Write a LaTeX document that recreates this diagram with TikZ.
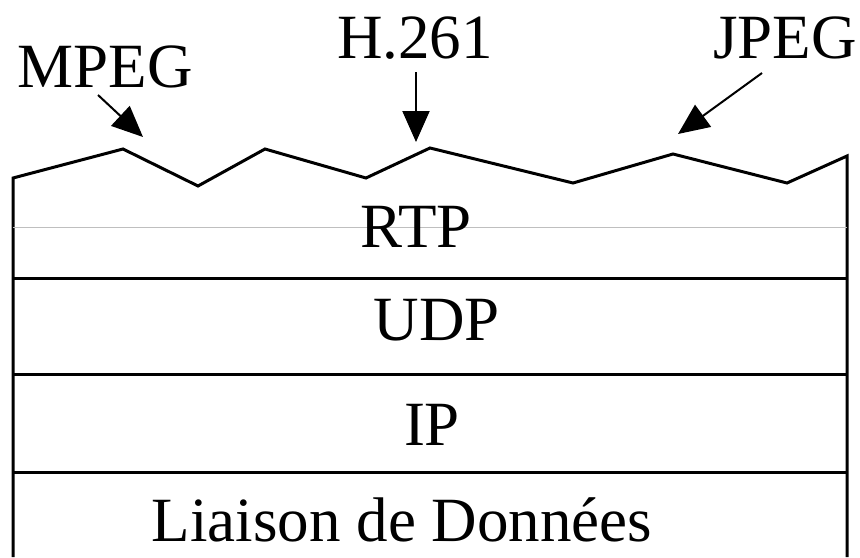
\documentclass[tikz,border=0pt]{standalone}
\usepackage{fontspec}
\setmainfont{Liberation Serif}
\usepackage{tikz}
\usetikzlibrary{arrows.meta}
\newcommand{\stackfont}{\fontsize{31.5}{36}\selectfont}
\tikzset{
    codec/.style={font=\stackfont, inner sep=0pt, anchor=base},
    layer/.style={font=\stackfont, inner sep=0pt, anchor=base},
    border/.style={line width=1.5pt, line join=miter},
    divider/.style={line width=1.5pt},
    arrow/.style={line width=1pt, -{Triangle[length=15.5pt, width=13.5pt]}}
}

\begin{document}
\begin{tikzpicture}[x=0.5pt, y=-0.5pt]
    \useasboundingbox (0,0) rectangle (860,557);

    % payload formats on top
    \node (mpeg) [codec] at (105,87) {MPEG};
    \node (h261) [codec] at (415,58) {H.261};
    \node (jpeg) [codec] at (785,58) {JPEG};

    \coordinate (mpegtail) at (98,95);
    \coordinate (mpegtip) at (143,137);
    \coordinate (h261tail) at (416,72);
    \coordinate (h261tip) at (416,142);
    \coordinate (jpegtail) at (762,73);
    \coordinate (jpegtip) at (678,134);

    % stack outline, ragged on top
    \draw [border] (13,557) -- (13,178) -- (123,149) -- (198,186) -- (265,149)
        -- (366,178) -- (430,148) -- (573,183) -- (673,154) -- (787,183)
        -- (847,156) -- (847,557);

    % layer boundaries
    \draw [black!25, line width=0.5pt] (13,227) -- (847,227);
    \draw [divider] (13,278) -- (847,278);
    \draw [divider] (13,374) -- (847,374);
    \draw [divider] (13,472) -- (847,472);

    \node (rtp) [layer] at (416,247) {RTP};
    \node (udp) [layer] at (437,340) {UDP};
    \node (ip) [layer] at (432,445) {IP};
    \node (link) [layer] at (402,541) {Liaison de Données};

    \draw [arrow] (mpegtail) -- (mpegtip);
    \draw [arrow] (h261tail) -- (h261tip);
    \draw [arrow] (jpegtail) -- (jpegtip);
\end{tikzpicture}
\end{document}
